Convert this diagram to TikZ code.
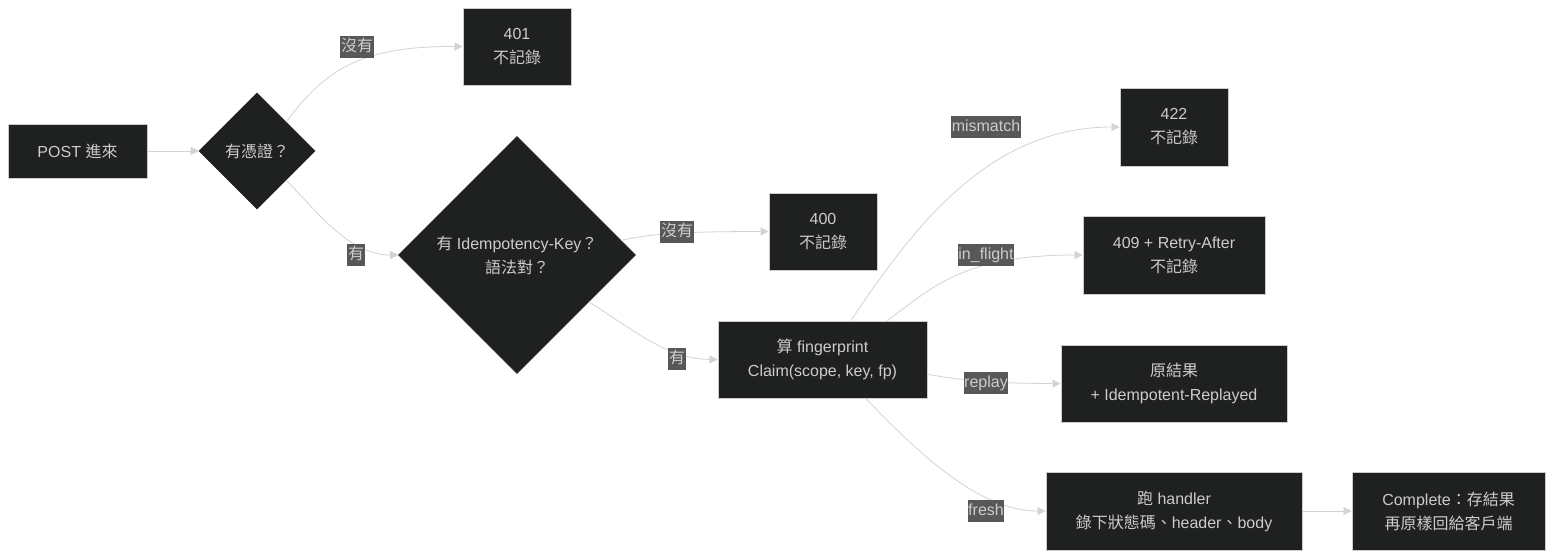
\documentclass[tikz,border=0pt]{standalone}
\usepackage{fontspec}
\setmainfont{Liberation Sans}
\newfontfamily\cjk{Noto Sans CJK TC}
\usepackage{xcolor}
\usetikzlibrary{shapes.geometric,arrows.meta}

\definecolor{nodefill}{HTML}{1F2020}
\definecolor{nodeline}{HTML}{CCCCCC}
\definecolor{nodetext}{HTML}{CCCCCC}
\definecolor{edgecol}{HTML}{D3D3D3}
\definecolor{lblfill}{HTML}{585858}

\tikzset{
  stepbox/.style={rectangle, fill=nodefill, draw=nodeline, line width=0.75pt,
    text=nodetext, align=center, inner sep=0pt, font=\fontsize{12}{18}\selectfont},
  decision/.style={diamond, aspect=1, fill=nodefill, draw=nodefill,
    text=nodetext, align=center, inner sep=0pt, font=\fontsize{12}{18}\selectfont},
  edge/.style={draw=edgecol, line width=0.6pt, -{Triangle[length=6pt,width=6pt]}},
  lbl/.style={fill=lblfill, text=nodetext, inner xsep=0.5pt, inner ysep=2.6pt,
    text height=9pt, text depth=3pt, font=\fontsize{12}{14}\selectfont}
}

\begin{document}
\begin{tikzpicture}[x=0.75pt, y=-0.75pt]
    \fill[white] (0,0) rectangle (1553,558);
    \useasboundingbox (0,0) rectangle (1553,558);

    % nodes
    \node[stepbox, minimum width=104.25pt, minimum height=40.5pt] (post) at (77.5,151) {POST {\cjk 進來}};
    \node[decision, minimum width=87pt, minimum height=87pt] (auth) at (257,151) {{\cjk 有憑證？}};
    \node[stepbox, minimum width=81pt, minimum height=57.75pt] (r401) at (517,46.5) {401\\{\cjk 不記錄}};
    \node[decision, minimum width=177.75pt, minimum height=177.75pt] (idem) at (517,255) {{\cjk 有} Idempotency-Key{\cjk ？}\\{\cjk 語法對？}};
    \node[stepbox, minimum width=81pt, minimum height=57.75pt] (r400) at (823,231.5) {400\\{\cjk 不記錄}};
    \node[stepbox, minimum width=156.75pt, minimum height=57.75pt] (claim) at (822.5,359.5) {{\cjk 算} fingerprint\\Claim(scope, key, fp)};
    \node[stepbox, minimum width=81pt, minimum height=58.5pt] (r422) at (1174,127) {422\\{\cjk 不記錄}};
    \node[stepbox, minimum width=136.5pt, minimum height=58.5pt] (r409) at (1174,255) {409 + Retry-After\\{\cjk 不記錄}};
    \node[stepbox, minimum width=169.5pt, minimum height=57.75pt] (replay) at (1174,383.5) {{\cjk 原結果}\\+ Idempotent-Replayed};
    \node[stepbox, minimum width=192pt, minimum height=58.5pt] (run) at (1174,511) {{\cjk 跑} handler\\{\cjk 錄下狀態碼、}header{\cjk 、}body};
    \node[stepbox, minimum width=144.75pt, minimum height=58.5pt] (done) at (1448.5,511) {Complete{\cjk ：存結果}\\{\cjk 再原樣回給客戶端}};

    % connectors
    \draw[edge] (post.east) -- (auth.west);
    \draw[edge] (auth.north east) .. controls (325,70) and (360,46) .. (r401.west);
    \draw[edge] (auth.south east) .. controls (320,215) and (350,255) .. (idem.west);
    \draw[edge] (idem.8) .. controls (650,234) and (680,231.5) .. (r400.west);
    \draw[edge] (idem.-33) .. controls (640,335) and (670,359) .. (claim.west);
    \draw[edge] (claim.54.5) .. controls (915,225) and (990,127) .. (r422.west);
    \draw[edge] (claim.31.6) .. controls (930,290) and (960,255) .. (r409.west);
    \draw[edge] (claim.-8.4) .. controls (960,380) and (990,383.5) .. (replay.west);
    \draw[edge] (claim.-42.2) .. controls (920,455) and (980,511) .. (run.west);
    \draw[edge] (run.east) -- (done.west);

    % edge labels
    \node[lbl] (lNoAuth) at (357,47) {\cjk 沒有};
    \node[lbl] (lAuth) at (356,255) {\cjk 有};
    \node[lbl] (lNoKey) at (677,232) {\cjk 沒有};
    \node[lbl] (lKey) at (677,359) {\cjk 有};
    \node[lbl] (lMismatch) at (986,127) {mismatch};
    \node[lbl] (lFlight) at (986,255) {in\_flight};
    \node[lbl] (lReplay) at (986,383) {replay};
    \node[lbl] (lFresh) at (986,511) {fresh};
\end{tikzpicture}
\end{document}
